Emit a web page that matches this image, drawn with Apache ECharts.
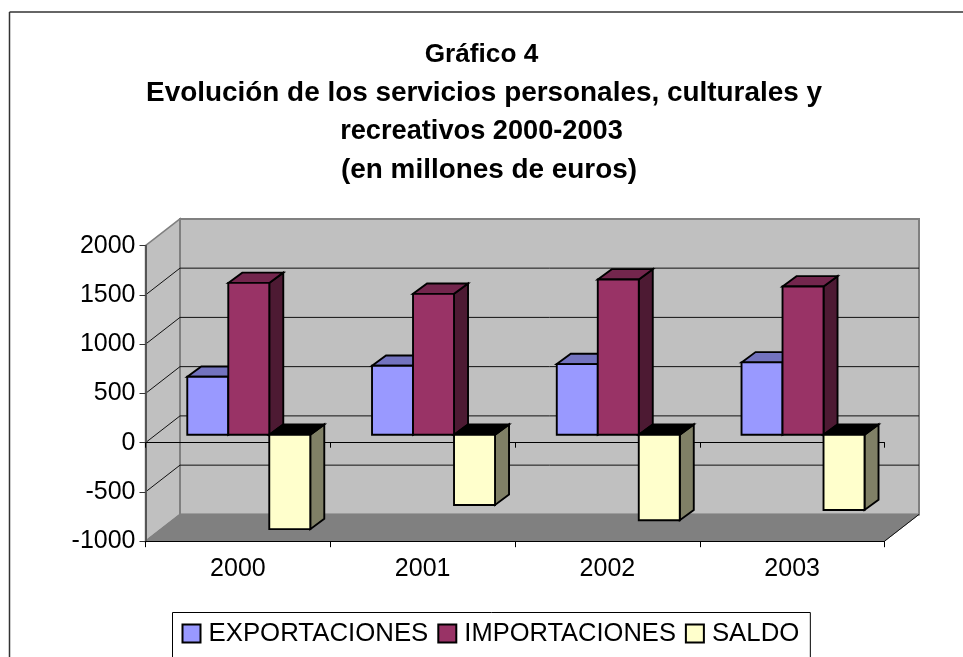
<!DOCTYPE html>
<html>
<head>
<meta charset="utf-8">
<style>html,body{margin:0;padding:0;background:#fff;overflow:hidden}#c{width:963px;height:657px}</style>
<script src="https://cdn.jsdelivr.net/npm/echarts@6/dist/echarts.min.js"></script>
</head>
<body>
<div id="c"></div>
<script>
const categories = ['2000', '2001', '2002', '2003'];
const exportaciones = [588, 700, 717, 734];
const importaciones = [1541, 1430, 1576, 1505];
const saldo = [-959, -713, -868, -764];
const yTicks = [-1000, -500, 0, 500, 1000, 1500, 2000];
const titleLines = ['Gráfico 4', 'Evolución de los servicios personales, culturales y', 'recreativos 2000-2003', '(en millones de euros)'];

const FONT = '"Liberation Sans", Arial, sans-serif';
const WALL = {dx: 34.5, dy: -26.8};
const BAR_SHIFT = {dx: 10.9, dy: -8};
const BAR_DEPTH = {dx: 14, dy: -10.3};
const BAR_WIDTH = 41;

function poly(points, fill, stroke, lw) {
  return {type: 'polygon', shape: {points}, style: {fill, stroke: stroke || 'none', lineWidth: lw || 0, lineJoin: 'miter'}, silent: true};
}
function seg(x1, y1, x2, y2, stroke, lw) {
  return {type: 'line', shape: {x1, y1, x2, y2}, style: {stroke, lineWidth: lw}, silent: true};
}

function renderWalls(params, api) {
  const g = params.coordSys;
  const L = g.x, R = g.x + g.width, T = g.y, B = g.y + g.height;
  const d = WALL;
  return {type: 'group', children: [
    poly([[L, T], [L + d.dx, T + d.dy], [L + d.dx, B + d.dy], [L, B]], '#c0c0c0', '#808080', 1.5),
    poly([[L + d.dx, T + d.dy], [R + d.dx, T + d.dy], [R + d.dx, B + d.dy], [L + d.dx, B + d.dy]], '#c0c0c0', '#808080', 2),
    poly([[L, B], [L + d.dx, B + d.dy], [R + d.dx, B + d.dy], [R, B]], '#808080', '#808080', 1),
    seg(R, B, R + d.dx, B + d.dy, '#111', 1)
  ]};
}

function renderGrid(params, api) {
  const v = api.value(0);
  if (v === yTicks[0] || v === yTicks[yTicks.length - 1]) return null;
  const g = params.coordSys;
  const y = api.coord([0, v])[1];
  const L = g.x, R = g.x + g.width, d = WALL;
  return {type: 'group', children: [
    seg(L, y, L + d.dx, y + d.dy, '#111', 1),
    seg(L + d.dx, y + d.dy, R + d.dx, y + d.dy, '#111', 1)
  ]};
}

function barRenderer(slot, front, top, side) {
  return function (params, api) {
    const idx = api.value(0), val = api.value(1);
    const p0 = api.coord([idx, 0]);
    const p1 = api.coord([idx, val]);
    const x0 = p0[0] - 1.5 * BAR_WIDTH + slot * BAR_WIDTH + BAR_SHIFT.dx;
    const x1 = x0 + BAR_WIDTH;
    const yZero = p0[1] + BAR_SHIFT.dy;
    const yVal = p1[1] + BAR_SHIFT.dy;
    const yT = Math.min(yZero, yVal), yB = Math.max(yZero, yVal);
    const d = BAR_DEPTH, lw = 1.9;
    return {type: 'group', children: [
      poly([[x1, yT], [x1 + d.dx, yT + d.dy], [x1 + d.dx, yB + d.dy], [x1, yB]], side, '#000', lw),
      poly([[x0, yT], [x0 + d.dx, yT + d.dy], [x1 + d.dx, yT + d.dy], [x1, yT]], top, '#000', lw),
      poly([[x0, yT], [x1, yT], [x1, yB], [x0, yB]], front, '#000', lw)
    ]};
  };
}

function toData(values) { return values.map((v, i) => [i, v]); }

const titleStyles = ['l1', 'l2', 'l3', 'l4'];
const chart = echarts.init(document.getElementById('c'), null, {renderer: 'canvas'});
function titleRich(size, padLeft) {
  return {fontFamily: FONT, fontSize: size, fontWeight: 'bold', color: '#000', lineHeight: 38.5, align: 'center', padding: [0, 0, 0, padLeft]};
}
chart.setOption({
  animation: false,
  backgroundColor: '#fff',
  title: {
    text: titleLines.map((t, i) => '{' + titleStyles[i] + '|' + t + '}').join('\n'),
    left: 476.5,
    top: 30.5,
    textAlign: 'center',
    textStyle: {
      fontFamily: FONT, fontSize: 27, fontWeight: 'bold', color: '#000', lineHeight: 38.5, align: 'center',
      rich: {l1: titleRich(26.2, 0), l2: titleRich(27.9, 5), l3: titleRich(27.2, 0), l4: titleRich(27.9, 15)}
    }
  },
  legend: {
    left: 172.5,
    top: 612.5,
    orient: 'horizontal',
    padding: [8, 11, 30, 9],
    itemGap: 9,
    itemWidth: 18,
    itemHeight: 18,
    borderColor: '#000',
    borderWidth: 1,
    selectedMode: false,
    textStyle: {fontFamily: FONT, fontSize: 25.8, color: '#000', padding: [0, 0, 0, 3]},
    data: [
      {name: 'EXPORTACIONES', icon: 'rect', itemStyle: {color: '#9999ff', borderColor: '#000', borderWidth: 2}},
      {name: 'IMPORTACIONES', icon: 'rect', textStyle: {fontFamily: FONT, fontSize: 25.5, color: '#000', padding: [0, 0, 0, 3]}, itemStyle: {color: '#993366', borderColor: '#000', borderWidth: 2}},
      {name: 'SALDO', icon: 'rect', itemStyle: {color: '#ffffcc', borderColor: '#000', borderWidth: 2}}
    ]
  },
  grid: {left: 145.5, top: 245.7, width: 739, height: 295.5, containLabel: false},
  xAxis: [
    {
      type: 'category', data: categories, position: 'bottom', z: 2,
      axisLine: {onZero: false, lineStyle: {color: '#000', width: 1}},
      axisTick: {show: true, length: 6, lineStyle: {color: '#000'}},
      axisLabel: {fontFamily: FONT, fontSize: 25, color: '#000', margin: 15}
    },
    {
      type: 'category', data: categories, position: 'bottom', z: 2,
      axisLine: {onZero: true, lineStyle: {color: '#000', width: 1}},
      axisTick: {show: true, length: 5, lineStyle: {color: '#000'}},
      axisLabel: {show: false}
    }
  ],
  yAxis: {
    type: 'value', min: -1000, max: 2000, interval: 500, z: 2,
    axisLine: {show: true, lineStyle: {color: '#555', width: 2}},
    axisTick: {show: true, length: 6, lineStyle: {color: '#333'}},
    axisLabel: {fontFamily: FONT, fontSize: 25, color: '#000', margin: 10, formatter: v => String(v)},
    splitLine: {show: false}
  },
  series: [
    {type: 'custom', name: 'walls', silent: true, z: 1, xAxisIndex: 0, renderItem: renderWalls, data: [[0, 0]], encode: {x: 0, y: 1}, clip: false},
    {type: 'custom', name: 'grid', silent: true, z: 1, xAxisIndex: 0, renderItem: renderGrid, data: yTicks.map(v => [v]), encode: {y: 0}, clip: false},
    {type: 'custom', name: 'EXPORTACIONES', z: 3, xAxisIndex: 0, renderItem: barRenderer(0, '#9999ff', '#7373bf', '#4d4d80'), data: toData(exportaciones), encode: {x: 0, y: 1}, itemStyle: {color: '#9999ff'}, clip: false},
    {type: 'custom', name: 'IMPORTACIONES', z: 3, xAxisIndex: 0, renderItem: barRenderer(1, '#993366', '#73264d', '#4d1a33'), data: toData(importaciones), encode: {x: 0, y: 1}, itemStyle: {color: '#993366'}, clip: false},
    {type: 'custom', name: 'SALDO', z: 3, xAxisIndex: 0, renderItem: barRenderer(2, '#ffffcc', '#000000', '#808066'), data: toData(saldo), encode: {x: 0, y: 1}, itemStyle: {color: '#ffffcc'}, clip: false}
  ],
  graphic: [
    {type: 'line', silent: true, z: 10, shape: {x1: 9.5, y1: 12, x2: 963, y2: 12}, style: {stroke: '#333', lineWidth: 1.5}},
    {type: 'line', silent: true, z: 10, shape: {x1: 9.5, y1: 12, x2: 9.5, y2: 657}, style: {stroke: '#333', lineWidth: 1.5}}
  ]
});
</script>
</body>
</html>
